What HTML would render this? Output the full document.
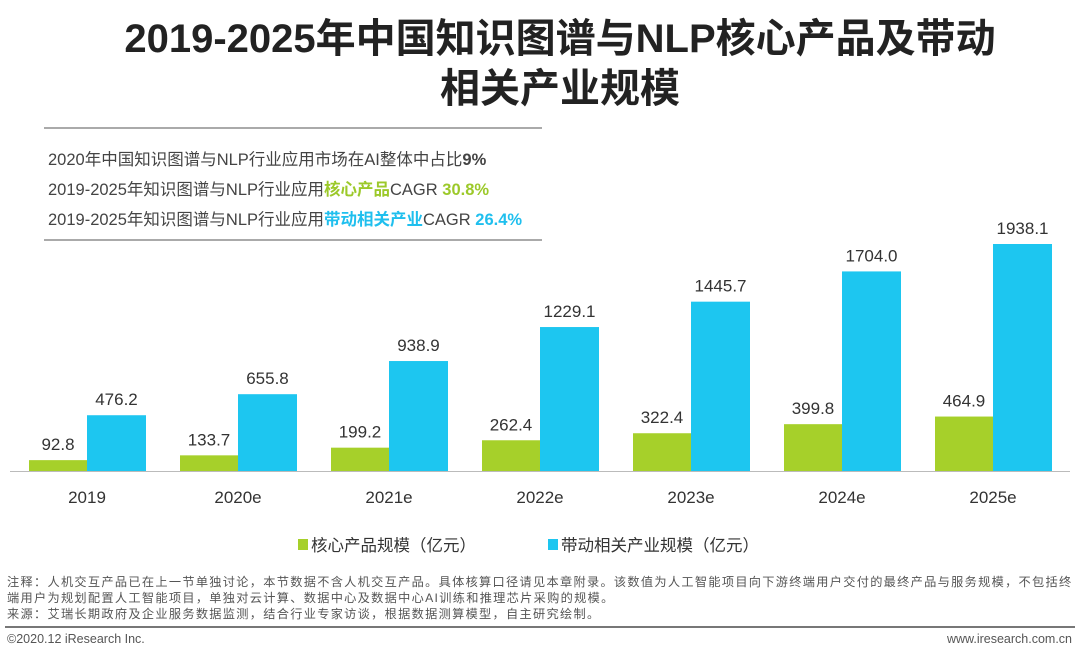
<!DOCTYPE html>
<html><head><meta charset="utf-8"><style>
body{margin:0;width:1080px;height:661px;background:#fff;font-family:"Liberation Sans","Noto Sans CJK SC",sans-serif;position:relative;overflow:hidden}
.t{position:absolute;left:20px;width:1080px;text-align:center;font-weight:bold;font-size:40px;color:#222;line-height:50px}
.info{position:absolute;left:48px;font-size:16.5px;color:#444}
.hr{position:absolute;left:44px;width:498px;height:2px;background:#aaa}
.note{position:absolute;left:7px;font-size:12.2px;color:#555;line-height:16px;width:1075px;letter-spacing:1.3px;white-space:nowrap}
</style></head><body>
<div class="t" style="top:14px">2019-2025年中国知识图谱与NLP核心产品及带动</div>
<div class="t" style="top:64px">相关产业规模</div>
<div class="hr" style="top:127px"></div>
<div class="info" style="top:146px">2020年中国知识图谱与NLP行业应用市场在AI整体中占比<b>9%</b></div>
<div class="info" style="top:176px">2019-2025年知识图谱与NLP行业应用<b style="color:#9cc92a">核心产品</b>CAGR <b style="color:#9cc92a">30.8%</b></div>
<div class="info" style="top:206px">2019-2025年知识图谱与NLP行业应用<b style="color:#1fbfee">带动相关产业</b>CAGR <b style="color:#1fbfee">26.4%</b></div>
<div class="hr" style="top:239px"></div>
<svg id="c" width="1080" height="661" style="position:absolute;left:0;top:0"></svg>
<div class="note" style="top:574px">注释：人机交互产品已在上一节单独讨论，本节数据不含人机交互产品。具体核算口径请见本章附录。该数值为人工智能项目向下游终端用户交付的最终产品与服务规模，不包括终<br>端用户为规划配置人工智能项目，单独对云计算、数据中心及数据中心AI训练和推理芯片采购的规模。<br>来源：艾瑞长期政府及企业服务数据监测，结合行业专家访谈，根据数据测算模型，自主研究绘制。</div>
<div style="position:absolute;left:5px;top:626px;width:1070px;height:2px;background:#777"></div>
<div style="position:absolute;left:7px;top:632px;font-size:12.5px;color:#555">©2020.12 iResearch Inc.</div>
<div style="position:absolute;right:8px;top:632px;font-size:12.5px;color:#555">www.iresearch.com.cn</div>
<script>
const categories=["2019","2020e","2021e","2022e","2023e","2024e","2025e"];
const coreValues=[92.8,133.7,199.2,262.4,322.4,399.8,464.9];
const relatedValues=[476.2,655.8,938.9,1229.1,1445.7,1704.0,1938.1];
const svg=document.getElementById('c');const NS='http://www.w3.org/2000/svg';
const base=471,scale=227/1938.1;
const y=v=>base-v*scale;const cx=i=>87+151*i;
function mk(t,a,txt){const e=document.createElementNS(NS,t);for(const k in a)e.setAttribute(k,a[k]);if(txt!==undefined)e.textContent=txt;svg.appendChild(e);return e;}
categories.forEach((c,i)=>{
 let g=mk('rect',{x:cx(i)-58,y:y(coreValues[i]),width:58,height:coreValues[i]*scale,fill:'#a6d02a'});
 
 
 let b=mk('rect',{x:cx(i),y:y(relatedValues[i]),width:59,height:relatedValues[i]*scale,fill:'#1dc6f0'});
 
 
 let l1=mk('text',{x:cx(i)-29,y:y(coreValues[i])-10,'text-anchor':'middle','font-size':17,fill:'#333'},coreValues[i].toFixed(1));
 
 
 let l2=mk('text',{x:cx(i)+29.5,y:y(relatedValues[i])-10,'text-anchor':'middle','font-size':17,fill:'#333'},relatedValues[i].toFixed(1));
 
 
 let xl=mk('text',{x:cx(i),y:503,'text-anchor':'middle','font-size':17,fill:'#333'},c);
 
 
});
let ax=mk('line',{x1:10,x2:1070,y1:base+0.5,y2:base+0.5,stroke:'#bbb','stroke-width':1});


let s1=mk('rect',{x:298,y:539,width:10,height:11,fill:'#a6d02a'});


let t1=mk('text',{x:311,y:551,'font-size':16.5,fill:'#333'},'核心产品规模（亿元）');


let s2=mk('rect',{x:548,y:539,width:10,height:11,fill:'#1dc6f0'});


let t2=mk('text',{x:561,y:551,'font-size':16.5,fill:'#333'},'带动相关产业规模（亿元）');


</script>
</body></html>
